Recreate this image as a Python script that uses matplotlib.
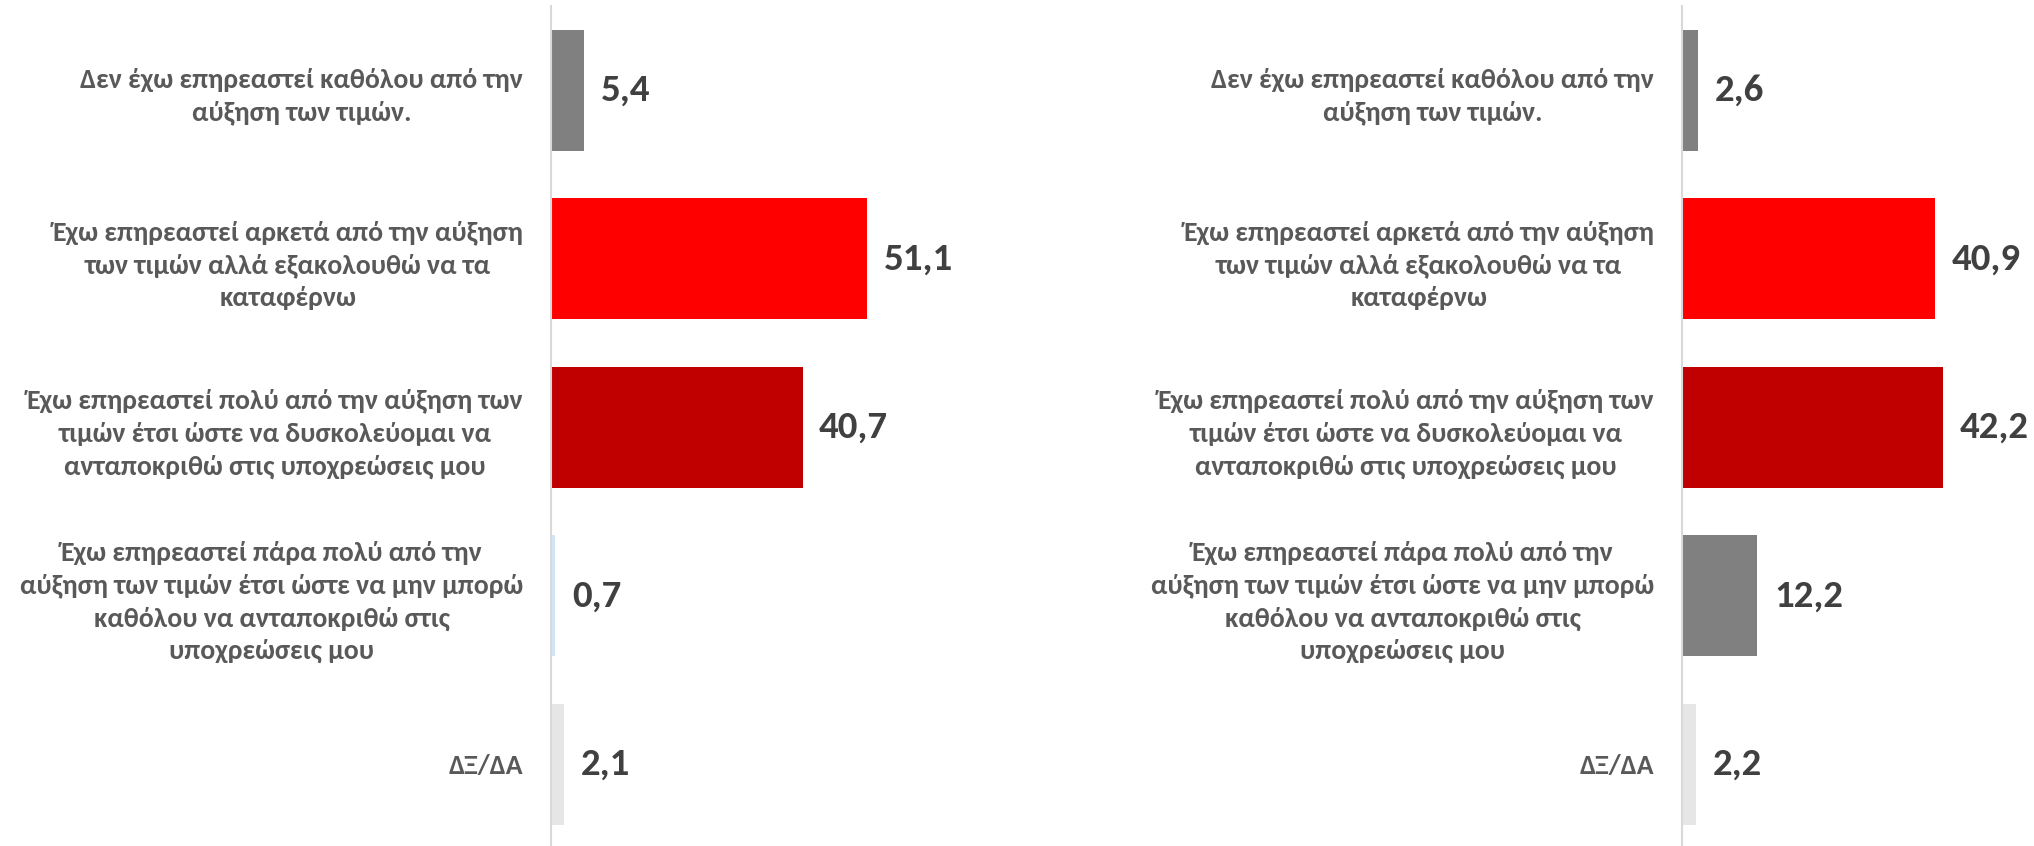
import matplotlib.pyplot as plt

plt.rcParams['font.family'] = ['Carlito', 'DejaVu Sans']

# ---- data ----
categories = [
    "Δεν έχω επηρεαστεί καθόλου από την\nαύξηση των τιμών.",
    "Έχω επηρεαστεί αρκετά από την αύξηση\nτων τιμών αλλά εξακολουθώ να τα\nκαταφέρνω",
    "Έχω επηρεαστεί πολύ από την αύξηση των\nτιμών έτσι ώστε να δυσκολεύομαι να\nανταποκριθώ στις υποχρεώσεις μου",
    "Έχω επηρεαστεί πάρα πολύ από την\nαύξηση των τιμών έτσι ώστε να μην μπορώ\nκαθόλου να ανταποκριθώ στις\nυποχρεώσεις μου",
    "ΔΞ/ΔΑ",
]
left_values = [5.4, 51.1, 40.7, 0.7, 2.1]
right_values = [2.6, 40.9, 42.2, 12.2, 2.2]

left_colors = ["#808080", "#FF0000", "#C00000", "#D0E6F8", "#E6E6E6"]
right_colors = ["#808080", "#FF0000", "#C00000", "#808080", "#E6E6E6"]

W, H = 2034, 846
fig = plt.figure(figsize=(W / 100, H / 100), dpi=100)

px_per_unit = 6.18  # bar length in pixels per percentage point


def panel(x0, width, values, colors):
    ax = fig.add_axes([x0 / W, -2.5 / H, width / W, 842.5 / H])
    y = range(len(categories))
    ax.barh(y, values, height=0.72, color=colors)
    ax.set_ylim(len(categories) - 0.5, -0.5)
    ax.set_xlim(0, width / px_per_unit)
    ax.set_yticks(list(y))
    ax.set_yticklabels(categories, fontsize=20, fontweight="bold",
                       color="#595959", linespacing=1.42)
    for lbl in ax.get_yticklabels():
        lbl.set_multialignment("center")
    ax.tick_params(axis="y", length=0, pad=20)
    ax.set_xticks([])
    for s in ["top", "right", "bottom"]:
        ax.spines[s].set_visible(False)
    ax.spines["left"].set_color("#D9D9D9")
    ax.spines["left"].set_linewidth(1.5)
    for i, v in enumerate(values):
        ax.annotate(f"{v:.1f}".replace(".", ","), (v, i), xytext=(12, 0),
                    textcoords="offset points", va="center", ha="left",
                    fontsize=28, fontweight="bold", color="#404040",
                    annotation_clip=False)
    return ax


panel(551, 460, left_values, left_colors)
panel(1682, 352, right_values, right_colors)

fig.savefig("out.png", dpi=100)
